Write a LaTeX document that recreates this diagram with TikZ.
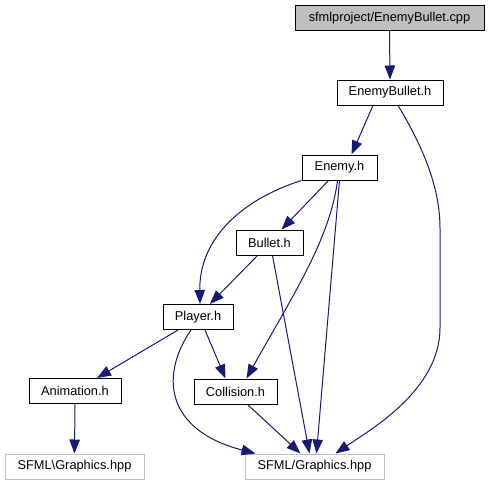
\documentclass[tikz,border=0pt]{standalone}
\usepackage{fontspec}
\setmainfont{Liberation Sans}
\usetikzlibrary{arrows.meta}
\definecolor{edgeblue}{HTML}{191970}
\definecolor{rootfill}{HTML}{BFBFBF}
\definecolor{extgray}{HTML}{BFBFBF}
\begin{document}
\begin{tikzpicture}[x=1pt,y=-1pt,
  box/.style={draw=black, line width=1pt, fill=white, minimum height=25pt, inner sep=0pt, font=\fontsize{12.8}{14}\selectfont},
  rootbox/.style={box, fill=rootfill},
  extbox/.style={box, draw=extgray},
  dep/.style={draw=edgeblue, line width=1pt, -{Triangle[length=14pt,width=10.5pt]}}]
\useasboundingbox (0,0) rectangle (490,485);
\node[rootbox, minimum width=189pt] (cpp) at (389.5,18) {sfmlproject/EnemyBullet.cpp};
\node[box, minimum width=106pt] (ebh) at (390,92.5) {EnemyBullet.h};
\node[box, minimum width=75pt] (enemy) at (339.5,167.5) {Enemy.h};
\node[box, minimum width=67pt] (bullet) at (269.5,242.5) {Bullet.h};
\node[box, minimum width=70pt] (player) at (198,317) {Player.h};
\node[box, minimum width=92pt] (anim) at (75,391) {Animation.h};
\node[box, minimum width=83pt] (coll) at (235.5,391.5) {Collision.h};
\node[extbox, minimum width=139pt] (sfmlb) at (74.5,466.5) {SFML\textbackslash Graphics.hpp};
\node[extbox, minimum width=139pt] (sfml) at (314.5,466.5) {SFML/Graphics.hpp};

\draw[dep] (cpp.south) -- (ebh.north);
\draw[dep] ([xshift=-17pt]ebh.south) -- ([xshift=12pt]enemy.north);
\draw[dep] ([xshift=8pt]ebh.south) .. controls (425,150) and (440,190) .. (440,228) -- (440,328) .. controls (440,390) and (370,430) .. ([xshift=21pt]sfml.north);
\draw[dep] ([xshift=-11pt]enemy.south) -- ([xshift=12pt]bullet.north);
\draw[dep] (enemy.south west) .. controls (240,200) and (199,240) .. ([xshift=2pt]player.north);
\draw[dep] ([xshift=-2pt]enemy.south) .. controls (330,240) and (290,300) .. ([xshift=11pt]coll.north);
\draw[dep] (enemy.south) -- ([xshift=2pt]sfml.north);
\draw[dep] ([xshift=-12pt]bullet.south) -- ([xshift=12pt]player.north);
\draw[dep] ([xshift=3pt]bullet.south) -- ([xshift=-5pt]sfml.north);
\draw[dep] ([xshift=-20pt]player.south) -- ([xshift=22pt]anim.north);
\draw[dep] ([xshift=7pt]player.south) -- ([xshift=-10pt]coll.north);
\draw[dep] ([xshift=-7pt]player.south) .. controls (160,375) and (165,430) .. ([xshift=-59pt]sfml.north);
\draw[dep] ([xshift=12pt]coll.south) -- ([xshift=-14pt]sfml.north);
\draw[dep] (anim.south) -- (sfmlb.north);
\end{tikzpicture}
\end{document}
